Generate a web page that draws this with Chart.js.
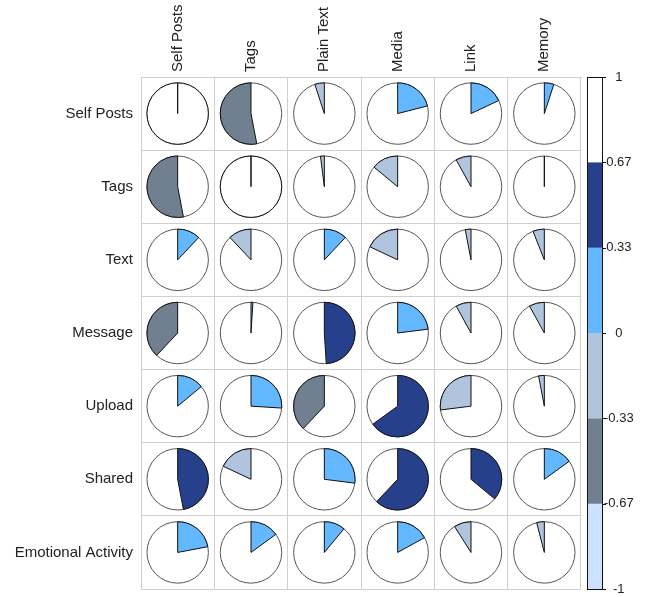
<!DOCTYPE html>
<html>
<head>
<meta charset="utf-8">
<script src="https://cdn.jsdelivr.net/npm/chart.js@4.4.0/dist/chart.umd.min.js"></script>
<style>
    html, body { margin: 0; padding: 0; background: #fff; }
    #wrap { width: 660px; height: 597px; }
</style>
</head>
<body>
<div id="wrap"><canvas id="pieMatrix"></canvas></div>
<script>
// Categories
const colLabels = ['Self Posts', 'Tags', 'Plain Text', 'Media', 'Link', 'Memory'];
const rowLabels = ['Self Posts', 'Tags', 'Text', 'Message', 'Upload', 'Shared', 'Emotional Activity'];

// Correlation values, one array per row (same order as colLabels)
const selfPostsRow = [1, -0.53, -0.05, 0.21, 0.18, 0.05];
const tagsRow      = [-0.53, 1, -0.02, -0.14, -0.08, 0];
const textRow      = [0.12, -0.12, 0.12, -0.18, -0.03, -0.06];
const messageRow   = [-0.38, 0.01, 0.49, 0.23, -0.08, -0.08];
const uploadRow    = [0.14, 0.26, -0.38, 0.65, -0.27, -0.03];
const sharedRow    = [0.47, -0.18, 0.27, 0.62, 0.36, 0.15];
const emotionalRow = [0.22, 0.15, 0.11, 0.17, -0.09, -0.04];
const allRows = [selfPostsRow, tagsRow, textRow, messageRow, uploadRow, sharedRow, emotionalRow];

// Colour key
const cbBreaks = [-1, -0.667, -0.333, 0, 0.333, 0.667, 1];
const cbLabels = ['-1', '-0.67', '-0.33', '0', '0.33', '0.67', '1'];
const binColors = ['#CAE1FF', '#708090', '#B0C4DE', '#63B8FF', '#27408B', '#FFFFFF'];

function colorFor(v) {
    let k = Math.floor((v + 1) / (2 / binColors.length));
    if (k > binColors.length - 1) k = binColors.length - 1;
    if (k < 0) k = 0;
    return binColors[k];
}

const points = [];
allRows.forEach((row, r) => {
    row.forEach((v, c) => {
        points.push({ x: colLabels[c], y: rowLabels[r], v: v });
    });
});

// draws a pie per data point at the point's scale position
const piePlugin = {
    id: 'pies',
    afterDatasetsDraw(chart) {
        const ctx = chart.ctx;
        const xs = chart.scales.x;
        const ys = chart.scales.y;
        const cellW = Math.abs(xs.getPixelForValue(1) - xs.getPixelForValue(0));
        const cellH = Math.abs(ys.getPixelForValue(1) - ys.getPixelForValue(0));
        const r = Math.min(cellW, cellH) * 0.42;
        const meta = chart.getDatasetMeta(0);
        const data = chart.data.datasets[0].data;
        ctx.save();
        meta.data.forEach((pt, i) => {
            const v = data[i].v;
            const x = pt.x, y = pt.y;
            ctx.beginPath();
            ctx.arc(x, y, r, 0, Math.PI * 2);
            ctx.fillStyle = '#fff';
            ctx.fill();
            ctx.lineWidth = 1;
            ctx.strokeStyle = '#555';
            ctx.stroke();

            const start = -Math.PI / 2;
            const end = start + Math.PI * 2 * v;
            ctx.beginPath();
            ctx.moveTo(x, y);
            ctx.arc(x, y, r, start, end, v < 0);
            ctx.closePath();
            ctx.fillStyle = colorFor(v);
            ctx.fill();
            ctx.strokeStyle = '#111';
            ctx.stroke();
        });
        ctx.restore();
    }
};

// colour bar next to the grid, using the cb scale
const colorBarPlugin = {
    id: 'colorBar',
    afterDraw(chart) {
        const ctx = chart.ctx;
        const cb = chart.scales.cb;
        const x0 = chart.chartArea.right + 6;
        const w = 15;
        ctx.save();
        for (let k = 0; k < binColors.length; k++) {
            const yTop = cb.getPixelForValue(cbBreaks[k + 1]);
            const yBot = cb.getPixelForValue(cbBreaks[k]);
            ctx.fillStyle = binColors[k];
            ctx.fillRect(x0, yTop, w, yBot - yTop);
        }
        const top = cb.getPixelForValue(1);
        const bot = cb.getPixelForValue(-1);
        ctx.strokeStyle = '#111';
        ctx.lineWidth = 1;
        ctx.strokeRect(x0 + 0.5, Math.round(top) + 0.5, w, Math.round(bot - top));
        cbBreaks.forEach(b => {
            const y = Math.round(cb.getPixelForValue(b)) + 0.5;
            ctx.beginPath();
            ctx.moveTo(x0 + w, y);
            ctx.lineTo(x0 + w + 4, y);
            ctx.stroke();
        });
        ctx.restore();
    }
};

const labelFont = { family: 'Liberation Sans, Arial, sans-serif', size: 15 };
const gridColor = '#cfcfcf';
const textColor = '#222';

new Chart(document.getElementById('pieMatrix'), {
    type: 'scatter',
    data: {
        datasets: [{
            data: points,
            pointRadius: 0,
            pointHoverRadius: 0
        }]
    },
    options: {
        responsive: true,
        maintainAspectRatio: false,
        animation: false,
        layout: { padding: { top: 0, left: 0, right: 0, bottom: 8 } },
        plugins: {
            legend: { display: false },
            tooltip: { enabled: false }
        },
        scales: {
            x: {
                type: 'category',
                labels: colLabels,
                position: 'top',
                offset: true,
                grid: { offset: true, color: gridColor, drawTicks: false },
                border: { color: gridColor },
                ticks: {
                    autoSkip: false,
                    minRotation: 90,
                    maxRotation: 90,
                    padding: 5,
                    labelOffset: 18,
                    color: textColor,
                    font: labelFont
                },
                afterFit(scale) {
                    scale.height = 77;
                    scale.paddingLeft = 0;
                    scale.paddingRight = 0;
                }
            },
            y: {
                type: 'category',
                labels: rowLabels,
                position: 'left',
                offset: true,
                grid: { offset: true, color: gridColor, drawTicks: false },
                border: { color: gridColor },
                ticks: {
                    autoSkip: false,
                    padding: 8,
                    color: textColor,
                    font: labelFont
                },
                afterFit(scale) {
                    scale.width = 141;
                    scale.paddingTop = 0;
                    scale.paddingBottom = 0;
                }
            },
            cb: {
                type: 'linear',
                position: 'right',
                min: -1,
                max: 1,
                grid: { display: false },
                border: { display: false },
                afterBuildTicks(scale) {
                    scale.ticks = cbBreaks.map(v => ({ value: v }));
                },
                ticks: {
                    callback: (val, i) => cbLabels[i],
                    crossAlign: 'center',
                    padding: 15,
                    color: textColor,
                    font: { family: 'Liberation Sans, Arial, sans-serif', size: 13 }
                },
                afterFit(scale) {
                    scale.width = 79;
                    scale.paddingTop = 0;
                    scale.paddingBottom = 0;
                }
            }
        }
    },
    plugins: [piePlugin, colorBarPlugin]
});
</script>
</body>
</html>
